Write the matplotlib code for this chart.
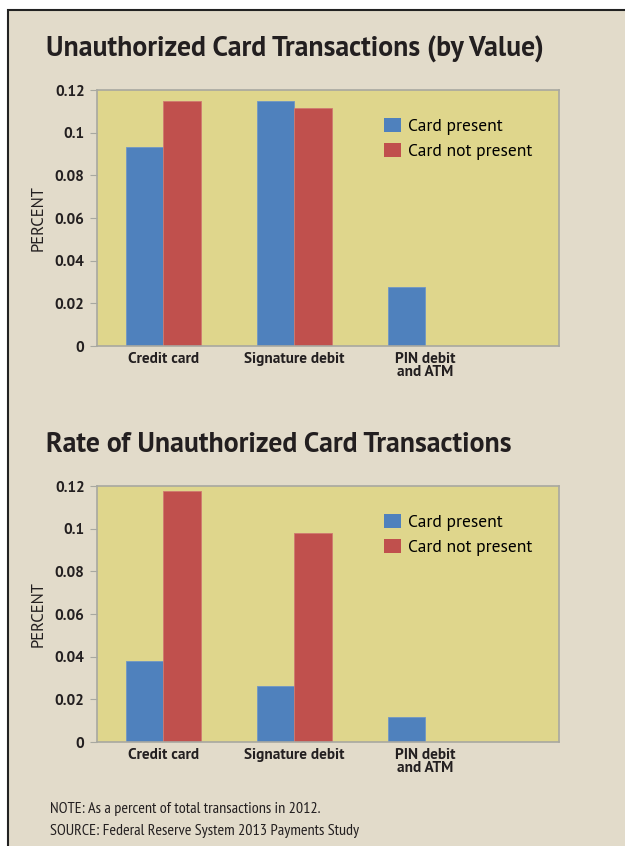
import matplotlib
matplotlib.use('Agg')
import matplotlib.pyplot as plt
import numpy as np
from matplotlib.patches import Rectangle, Patch

# data
categories = ['Credit card', 'Signature debit', 'PIN debit\nand ATM']
value_present = [0.0934, 0.115, 0.0278]
value_not_present = [0.115, 0.1116, 0.0]
rate_present = [0.038, 0.0262, 0.0116]
rate_not_present = [0.1175, 0.098, 0.0]
yticks = [0, 0.02, 0.04, 0.06, 0.08, 0.1, 0.12]
ytick_labels = ['0', '0.02', '0.04', '0.06', '0.08', '0.1', '0.12']
series_names = ['Card present', 'Card not present']
titles = ['Unauthorized Card Transactions (by Value)', 'Rate of Unauthorized Card Transactions']

BEIGE = '#e2dbca'
PLOT_BG = '#dfd68c'
BLUE = '#4f81bd'
RED = '#c0504d'
SPINE = '#a8a8a0'
INK = '#231f20'
NARROW_FONT = ['PT Sans Narrow', 'DejaVu Sans']
BODY_FONT = ['PT Sans', 'DejaVu Sans']

W, H = 625, 846
fig = plt.figure(figsize=(W / 100, H / 100), dpi=100, facecolor='white')
fig.add_artist(Rectangle((8 / W, -0.01), 1.0, (H - 10) / H + 0.01, transform=fig.transFigure,
                         facecolor=BEIGE, edgecolor='#222222', lw=1.5, zorder=-10))


def panel(top_px, present, not_present, title, title_y):
    ax = fig.add_axes([97 / W, (H - top_px - 256) / H, 462 / W, 256 / H])
    ax.set_facecolor(PLOT_BG)
    x = np.arange(len(categories))
    w = 0.285
    ax.bar(x - w / 2, present, w, color=BLUE, edgecolor='#6f96c6', lw=0.6, label=series_names[0])
    ax.bar(x + w / 2, not_present, w, color=RED, edgecolor='#cf7a70', lw=0.6, label=series_names[1])
    ax.set_xlim(-0.505, 3.02)
    ax.set_ylim(0, 0.12)
    ax.set_yticks(yticks)
    ax.set_yticklabels(ytick_labels, family=BODY_FONT, fontweight='bold', fontsize=11, color=INK)
    ax.set_xticks(x)
    ax.set_xticklabels(categories, family=BODY_FONT, fontweight='bold', fontsize=11, linespacing=0.95,
                       color=INK)
    ax.tick_params(axis='x', length=0, pad=4)
    ax.tick_params(axis='y', length=5, color=SPINE, pad=4)
    for s in ax.spines.values():
        s.set_color(SPINE)
        s.set_linewidth(1.2)
    ax.set_ylabel('PERCENT', family=BODY_FONT, fontsize=12, color=INK)
    ax.yaxis.set_label_coords(-0.11, 0.5)
    handles = [Patch(facecolor=BLUE), Patch(facecolor=RED)]
    ax.legend(handles, series_names, loc='upper left', bbox_to_anchor=(0.621, 0.892), frameon=False,
              borderpad=0, borderaxespad=0, handlelength=1.0, handleheight=0.9, handletextpad=0.4,
              labelspacing=0.45, prop={'family': BODY_FONT, 'size': 12.6})
    fig.text(46 / W, 1 - title_y / H, title, family=BODY_FONT, fontweight='bold', fontsize=20,
             color=INK, va='baseline')
    return ax


panel(90, value_present, value_not_present, titles[0], 57)
panel(486, rate_present, rate_not_present, titles[1], 452)

fig.text(50 / W, 1 - 813 / H, 'NOTE: As a percent of total transactions in 2012.', family=NARROW_FONT,
         fontsize=11.6, color=INK, va='baseline')
fig.text(50 / W, 1 - 835 / H, 'SOURCE: Federal Reserve System 2013 Payments Study', family=NARROW_FONT,
         fontsize=11.6, color=INK, va='baseline')

fig.savefig('out.png', dpi=100, facecolor=fig.get_facecolor())
